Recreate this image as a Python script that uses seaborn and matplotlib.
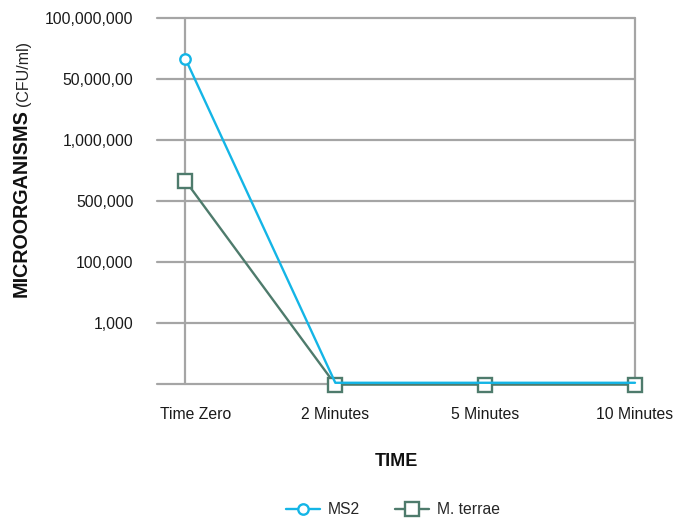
import matplotlib
matplotlib.use("Agg")
import matplotlib.pyplot as plt
from matplotlib.lines import Line2D
from matplotlib.transforms import ScaledTranslation
import seaborn as sns
import pandas as pd

# ---- data ----
time_points = ["Time Zero", "2 Minutes", "5 Minutes", "10 Minutes"]
# values expressed on the chart's (evenly spaced, categorical) y scale
ms2_level = [5.33, 0.02, 0.02, 0.02]
terrae_level = [3.33, -0.01, -0.01, -0.01]
y_tick_labels = ["", "1,000", "100,000", "500,000", "1,000,000", "50,000,00", "100,000,000"]
series_names = ["MS2", "M. terrae"]

MS2_COLOR = "#14B5E6"
TERRAE_COLOR = "#4E7B6C"
GRID_COLOR = "#A5A5A5"

sns.set_theme(style="white")
plt.rcParams["font.family"] = ["Liberation Sans", "DejaVu Sans"]

fig = plt.figure(figsize=(6.89, 5.20), dpi=100)
ax = fig.add_axes([157 / 689, 1 - 384 / 520, (635 - 157) / 689, (384 - 18) / 520])

x_pos = list(range(len(time_points)))
df = pd.DataFrame({"x": x_pos, "ms2": ms2_level, "terrae": terrae_level})

# grid
for i in range(len(y_tick_labels)):
    ax.axhline(i, color=GRID_COLOR, lw=1.6, zorder=1, clip_on=False)
ax.axvline(0, color=GRID_COLOR, lw=1.6, zorder=1, clip_on=False)
ax.axvline(len(time_points) - 1, color=GRID_COLOR, lw=1.6, zorder=1, clip_on=False)

sns.lineplot(data=df, x="x", y="terrae", ax=ax, color=TERRAE_COLOR, lw=1.7,
             marker="s", markersize=10.5, markerfacecolor="white",
             markeredgecolor=TERRAE_COLOR, markeredgewidth=1.7,
             clip_on=False, zorder=3)
sns.lineplot(data=df, x="x", y="ms2", ax=ax, color=MS2_COLOR, lw=1.7,
             marker="o", markersize=7.5, markerfacecolor="white",
             markeredgecolor=MS2_COLOR, markeredgewidth=1.7, markevery=[0],
             clip_on=False, zorder=4)

ax.set_xlim(-0.19, len(time_points) - 1)
ax.set_ylim(0, len(y_tick_labels) - 1)
ax.set_xticks(x_pos)
ax.set_xticklabels(time_points, fontsize=11.3, color="#1a1a1a")
ax.set_yticks(range(len(y_tick_labels)))
ax.set_yticklabels(y_tick_labels, fontsize=11.3, color="#1a1a1a")
ax.tick_params(axis="y", length=0, pad=17)
ax.tick_params(axis="x", length=0, pad=16.5)
for s in ax.spines.values():
    s.set_visible(False)
ax.set_xlabel("")
ax.set_ylabel("")

# first category label sits slightly right of its gridline in the reference
first = ax.get_xticklabels()[0]
first.set_transform(first.get_transform() + ScaledTranslation(10 / 100, 0, fig.dpi_scale_trans))

# axis titles
fig.text(396 / 689, 1 - 462 / 520, "TIME", fontsize=13, fontweight="bold",
         ha="center", va="center", color="#111111")
fig.text(21 / 689, 1 - 297 / 520, "MICROORGANISMS", fontsize=14.2, fontweight="bold",
         rotation=90, ha="center", va="bottom", color="#111111")
fig.text(23 / 689, 1 - 106 / 520, "(CFU/ml)", fontsize=11.5,
         rotation=90, ha="center", va="bottom", color="#222222")

handles = [
    Line2D([], [], color=MS2_COLOR, lw=1.7, marker="o", markersize=7.5,
           markerfacecolor="white", markeredgecolor=MS2_COLOR, markeredgewidth=1.7),
    Line2D([], [], color=TERRAE_COLOR, lw=1.7, marker="s", markersize=10.5,
           markerfacecolor="white", markeredgecolor=TERRAE_COLOR, markeredgewidth=1.7),
]
fig.legend(handles, series_names, loc="center", bbox_to_anchor=(393 / 689, 1 - 510 / 520),
           ncol=2, frameon=False, fontsize=11.3, handlelength=2.2, handletextpad=0.5,
           columnspacing=2.2)

fig.savefig("out.png", dpi=100)
